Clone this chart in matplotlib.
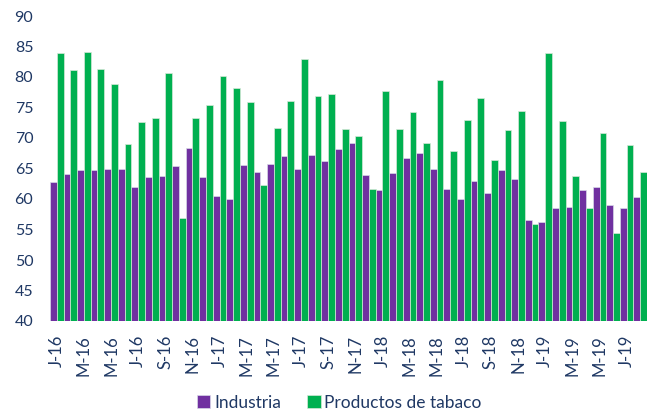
import numpy as np
import matplotlib
matplotlib.use("Agg")
import matplotlib.pyplot as plt

plt.rcParams['font.family'] = ['Lato', 'DejaVu Sans']

# monthly data, Jan 2016 - Aug 2019
month_labels = ['J-16', 'F-16', 'M-16', 'A-16', 'M-16', 'J-16', 'J-16', 'A-16', 'S-16', 'O-16', 'N-16', 'D-16',
                'J-17', 'F-17', 'M-17', 'A-17', 'M-17', 'J-17', 'J-17', 'A-17', 'S-17', 'O-17', 'N-17', 'D-17',
                'J-18', 'F-18', 'M-18', 'A-18', 'M-18', 'J-18', 'J-18', 'A-18', 'S-18', 'O-18', 'N-18', 'D-18',
                'J-19', 'F-19', 'M-19', 'A-19', 'M-19', 'J-19', 'J-19', 'A-19']

industria = [62.8, 64.1, 64.8, 64.8, 64.9, 64.9, 61.9, 63.6, 63.8, 65.4, 68.4, 63.6,
             60.5, 60.0, 65.6, 64.4, 65.7, 67.0, 65.0, 67.2, 66.2, 68.2, 69.1, 63.9,
             61.5, 64.3, 66.7, 67.5, 65.0, 61.7, 60.0, 62.9, 61.0, 64.8, 63.2, 56.6,
             56.2, 58.5, 58.7, 61.5, 61.9, 59.0, 58.6, 60.4]

tabaco = [83.9, 81.2, 84.1, 81.3, 78.9, 69.0, 72.7, 73.3, 80.7, 56.9, 73.3, 75.4,
          80.2, 78.2, 75.9, 62.3, 71.6, 76.1, 83.0, 76.9, 77.2, 71.5, 70.4, 61.6,
          77.7, 71.4, 74.3, 69.1, 79.5, 67.9, 72.9, 76.6, 66.4, 71.3, 74.5, 55.9,
          83.9, 72.8, 63.8, 58.5, 70.8, 54.5, 68.9, 64.5]

purple = '#7030A0'
green = '#00B050'
text_col = '#1F3864'

fig = plt.figure(figsize=(6.52, 4.12), dpi=100)
ax = fig.add_axes([50 / 652, 91 / 412, 597 / 652, 305 / 412])

x = np.arange(len(month_labels))
w = 0.5
ax.bar(x - w / 2, np.array(industria) - 40, w, bottom=40, color=purple,
       edgecolor='#d8d8e8', linewidth=0.5, label='Industria')
ax.bar(x + w / 2, np.array(tabaco) - 40, w, bottom=40, color=green,
       edgecolor='#d8e8d8', linewidth=0.5, label='Productos de tabaco')

ax.set_ylim(40, 90)
ax.set_yticks(range(40, 91, 5))
ax.set_xlim(-0.5, len(month_labels) - 0.5)
ax.set_xticks(x[::2])
ax.set_xticklabels(month_labels[::2], rotation=90)

for s in ax.spines.values():
    s.set_visible(False)
ax.tick_params(axis='both', length=0, colors=text_col, labelsize=11.5)
ax.tick_params(axis='x', labelsize=12, pad=10)
ax.tick_params(axis='y', pad=12)

fig.legend(loc='lower center', bbox_to_anchor=(0.52, -0.035), ncol=2, frameon=False,
           fontsize=12.5, labelcolor=text_col, handlelength=0.8, handleheight=0.8,
           handletextpad=0.2, columnspacing=1.5)

fig.savefig('out.png', dpi=100)
